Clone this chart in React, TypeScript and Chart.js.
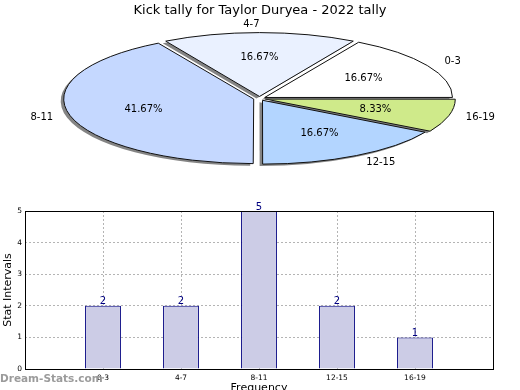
import React, { useEffect, useRef } from "react";
import { Chart, registerables } from "chart.js";

Chart.register(...registerables);
Chart.defaults.font.family = "'DejaVu Sans', sans-serif";
Chart.defaults.color = "#000";

const chartTitle = "Kick tally for Taylor Duryea - 2022 tally";
const categories = ["0-3", "4-7", "8-11", "12-15", "16-19"];
const counts = [2, 2, 5, 2, 1];
const pieColors = ["#ffffff", "#eaf1ff", "#c5d8ff", "#b3d5ff", "#cfea8a"];
const xAxisTitle = "Frequency";
const yAxisTitle = "Stat Intervals";
const watermark = "Dream-Stats.com";
const yMax = 5;

const PIE_CX = 259.5;
const PIE_CY = 98.5;
const SQUASH = 0.34;
const EXPLODE = 6;
const PIE_RADIUS = 187;

const total = counts.reduce((a, b) => a + b, 0);
// matplotlib-style counter-clockwise order from 3 o'clock == reversed clockwise order
const pieLabels = [...categories].reverse();
const pieValues = [...counts].reverse();
const pieBg = [...pieColors].reverse();

const ellipsePlugin = {
  id: "ellipsePie",
  beforeDatasetsDraw(chart: any) {
    const ctx = chart.ctx as any;
    const arc = chart.getDatasetMeta(0).data[0];
    const base = ctx.getTransform();
    ctx.save();
    ctx.translate(PIE_CX, PIE_CY);
    ctx.scale(1, SQUASH);
    ctx.translate(-arc.x, -arc.y);
    ctx.shadowColor = "rgba(80,80,80,0.7)";
    ctx.shadowOffsetX = -3;
    ctx.shadowOffsetY = 2;
    ctx.shadowBlur = 0;
    const orig = CanvasRenderingContext2D.prototype.stroke;
    ctx.stroke = function (...args: any[]) {
      this.save();
      this.setTransform(base);
      this.shadowColor = "rgba(0,0,0,0)";
      orig.apply(this, args);
      this.restore();
    };
  },
  afterDatasetsDraw(chart: any) {
    const ctx = chart.ctx as any;
    delete ctx.stroke;
    ctx.restore();
    const meta = chart.getDatasetMeta(0);
    ctx.save();
    ctx.fillStyle = "#000";
    ctx.font = "10px 'DejaVu Sans'";
    ctx.textBaseline = "middle";
    meta.data.forEach((arc: any, i: number) => {
      const mid = (arc.startAngle + arc.endAngle) / 2;
      const r = arc.outerRadius;
      const c = Math.cos(mid);
      const s = Math.sin(mid);
      const ox = PIE_CX + c * EXPLODE;
      const oy = PIE_CY + s * EXPLODE * SQUASH;
      const pct = ((pieValues[i] / total) * 100).toFixed(2) + "%";
      ctx.textAlign = "center";
      ctx.fillText(pct, ox + c * r * 0.61, oy + s * r * SQUASH * 0.61);
      ctx.textAlign = c > 0.01 ? "left" : "right";
      ctx.fillText(pieLabels[i], ox + c * r * 1.11, oy + s * r * SQUASH * 1.13);
    });
    ctx.restore();
  },
};

const barExtrasPlugin = {
  id: "barExtras",
  afterDatasetsDraw(chart: any) {
    const ctx = chart.ctx;
    const meta = chart.getDatasetMeta(0);
    const data = chart.data.datasets[0].data;
    ctx.save();
    ctx.fillStyle = "#000080";
    ctx.font = "10px 'DejaVu Sans'";
    ctx.textAlign = "center";
    ctx.textBaseline = "bottom";
    meta.data.forEach((el: any, i: number) => {
      const v = data[i];
      if (v === null || v === undefined) return;
      ctx.fillText(String(v), el.x, el.y + 1);
    });
    ctx.restore();
  },
  afterDraw(chart: any) {
    const ctx = chart.ctx;
    const a = chart.chartArea;
    ctx.save();
    ctx.strokeStyle = "#000";
    ctx.lineWidth = 1;
    ctx.strokeRect(Math.round(a.left) + 0.5, Math.round(a.top) + 0.5, Math.round(a.right - a.left), Math.round(a.bottom - a.top));
    ctx.fillStyle = "rgba(150,150,150,0.95)";
    ctx.font = "bold 10.5px 'DejaVu Sans'";
    ctx.textAlign = "left";
    ctx.textBaseline = "middle";
    ctx.fillText(watermark, 0, 379);
    ctx.restore();
  },
};

export default function App() {
  const pieRef = useRef<HTMLCanvasElement>(null);
  const barRef = useRef<HTMLCanvasElement>(null);

  useEffect(() => {
    const pie = new Chart(pieRef.current!, {
      type: "pie",
      data: {
        labels: pieLabels,
        datasets: [
          {
            data: pieValues,
            backgroundColor: pieBg,
            borderColor: "#111",
            borderWidth: 1,
            offset: EXPLODE * 4,
            clip: false as any,
          } as any,
        ],
      },
      options: {
        responsive: false,
        animation: false,
        events: [],
        rotation: 90,
        radius: PIE_RADIUS,
        layout: { padding: 0 },
        plugins: {
          legend: { display: false },
          tooltip: { enabled: false },
          title: {
            display: true,
            text: chartTitle,
            font: { size: 13, weight: "normal" as any },
            color: "#000",
            padding: { top: 3, bottom: 0 },
          },
        },
      } as any,
      plugins: [ellipsePlugin],
    });

    const gridColor = "#b4b4b4";
    const bar = new Chart(barRef.current!, {
      type: "bar",
      data: {
        labels: ["", ...categories, ""],
        datasets: [
          {
            data: [null, ...counts, null],
            backgroundColor: "#ccccE6",
            borderColor: "#000080",
            borderWidth: 1,
            barPercentage: 0.46,
            categoryPercentage: 1,
          } as any,
        ],
      },
      options: {
        responsive: false,
        animation: false,
        events: [],
        layout: { padding: { top: 211, right: 27, left: 0, bottom: 0 } },
        plugins: { legend: { display: false }, tooltip: { enabled: false }, title: { display: false } },
        scales: {
          x: {
            type: "category",
            offset: false,
            z: 1,
            grid: { offset: false, color: gridColor, drawTicks: false, lineWidth: 1 },
            border: { display: false, dash: [2, 2] },
            ticks: { font: { size: 7.5 }, color: "#000", padding: 5, autoSkip: false, maxRotation: 0 },
            title: { display: true, text: xAxisTitle, font: { size: 11 }, color: "#000", padding: { top: 0, bottom: -5 } },
            afterFit(s: any) {
              s.height = 21;
            },
          },
          y: {
            min: 0,
            max: yMax,
            z: 1,
            grid: { color: gridColor, drawTicks: false, lineWidth: 1 },
            border: { display: false, dash: [2, 2] },
            ticks: { stepSize: 1, font: { size: 7.5 }, color: "#000", padding: 3 },
            title: { display: true, text: yAxisTitle, font: { size: 11 }, color: "#000", padding: { top: 2, bottom: 0 } },
            afterFit(s: any) {
              s.width = 25;
            },
          },
        },
      } as any,
      plugins: [barExtrasPlugin],
    });

    return () => {
      pie.destroy();
      bar.destroy();
    };
  }, []);

  return (
    <div style={{ position: "absolute", left: 0, top: 0, width: 520, height: 390, background: "#fff" }}>
      <canvas ref={barRef} width={520} height={390} style={{ position: "absolute", left: 0, top: 0, width: 520, height: 390 }} />
      <canvas ref={pieRef} width={520} height={390} style={{ position: "absolute", left: 0, top: 0, width: 520, height: 390 }} />
    </div>
  );
}
